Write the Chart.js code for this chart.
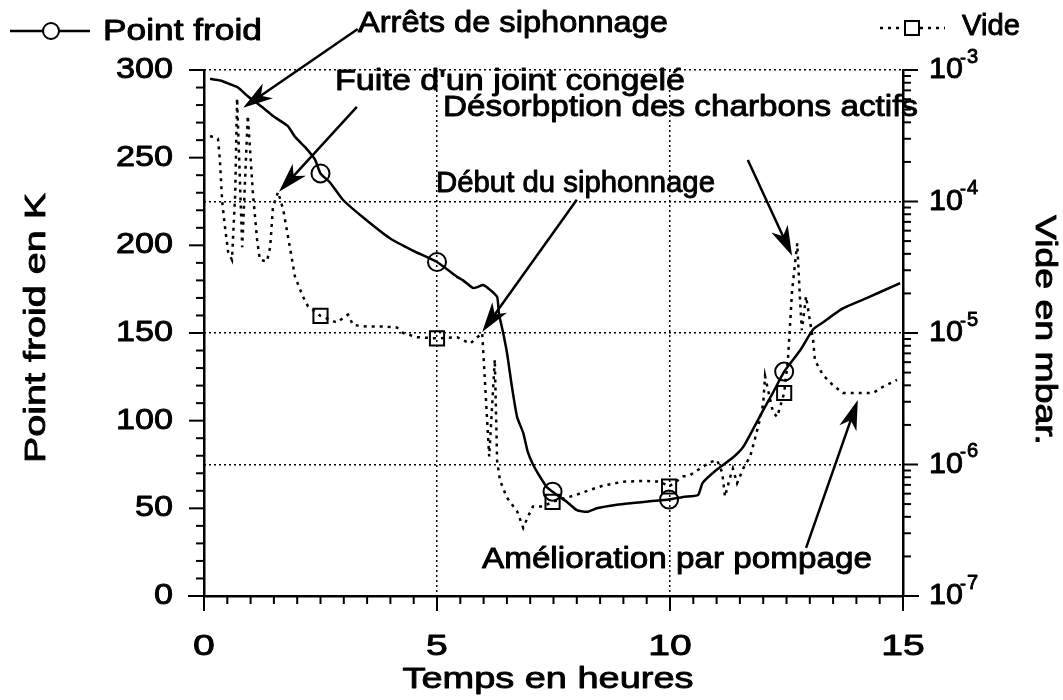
<!DOCTYPE html>
<html>
<head>
<meta charset="utf-8">
<script src="https://cdn.jsdelivr.net/npm/chart.js@4.4.1/dist/chart.umd.min.js"></script>
<style>
  body { margin: 0; background: #fff; }
  canvas { display: block; }
</style>
</head>
<body>
<canvas id="chart" width="1063" height="700"></canvas>
<script>
// Point froid (K) en fonction du temps (heures)
const froidHeures = [0.13, 0.35, 0.55, 0.73, 0.94, 1.24, 1.52, 1.8, 1.95, 2.17, 2.38, 2.5, 2.7, 2.98, 3.41, 3.99, 4.48, 5,
  5.43, 5.56, 5.77, 5.88, 5.99, 6.14, 6.29, 6.33, 6.42, 6.5, 6.61, 6.72, 6.85, 6.95, 7.06, 7.21, 7.36, 7.48,
  7.79, 8.0, 8.22, 8.43, 8.86, 9.2, 9.57, 9.98, 10.28, 10.6, 10.7, 11.0, 11.35, 11.57, 11.78, 12.0, 12.21, 12.45,
  12.79, 13.07, 13.28, 13.71, 14.23, 14.94];
const froidTemp = [295, 294, 292, 290, 285, 279, 273, 268, 262, 256, 249, 241, 236, 226, 216, 204, 197, 190.5,
  182, 180, 175.7, 176.3, 177.4, 174.6, 170.6, 161, 150, 139, 119, 102, 93, 82, 75, 68, 62, 59.5,
  53.6, 49, 48, 50, 52, 53, 54, 55, 56.5, 57.6, 64.5, 72, 79, 85, 95, 106, 116, 128,
  140, 152, 156, 164, 170, 178.5];

// Vide (mbar)
const videHeures = [0.13, 0.3, 0.34, 0.39, 0.45, 0.52, 0.6, 0.67, 0.71, 0.82, 0.94, 1.05, 1.14, 1.2, 1.35, 1.42,
  1.48, 1.59, 1.7, 1.78, 1.89, 1.95, 2.12, 2.23, 2.5, 2.85, 3.09, 3.2, 3.5, 3.84, 4.14, 4.27, 4.57, 5,
  5.43, 5.71, 5.97, 6.12, 6.24, 6.29, 6.35, 6.5, 6.72, 6.85, 6.95, 7.06, 7.27, 7.48, 8.0, 8.28, 8.56, 8.99,
  9.42, 9.79, 9.98, 10.28, 10.43, 10.64, 10.86, 11.01, 11.12, 11.18, 11.29, 11.35, 11.44, 11.57, 11.72, 11.82,
  11.93, 12.0, 12.04, 12.15, 12.21, 12.3, 12.45, 12.53, 12.62, 12.73, 12.79, 12.83, 12.92, 13.0, 13.07, 13.11,
  13.28, 13.5, 13.71, 14.08, 14.36, 14.57, 14.87];
const videPression = [3.15e-4, 3.0e-4, 2.1e-4, 1.0e-4, 6.4e-5, 4.1e-5, 3.6e-5, 1.15e-4, 6.1e-4, 4.5e-5, 4.5e-4, 1.15e-4,
  5.1e-5, 3.6e-5, 3.5e-5, 4.5e-5, 9.1e-5, 1.18e-4, 8.7e-5, 6.0e-5, 3.6e-5, 2.7e-5, 1.9e-5, 1.6e-5, 1.35e-5,
  1.2e-5, 1.38e-5, 1.15e-5, 1.12e-5, 1.12e-5, 1.1e-5, 1.0e-5, 9.3e-6, 9.1e-6, 9.3e-6, 8.3e-6, 1.0e-5, 1.15e-6,
  6.3e-6, 1.07e-6, 7.6e-7, 5.6e-7, 4.4e-7, 3.3e-7, 4.0e-7, 4.8e-7, 4.8e-7, 5.2e-7, 5.9e-7, 6.4e-7, 6.9e-7,
  7.4e-7, 7.5e-7, 7.4e-7, 6.8e-7, 8.1e-7, 8.3e-7, 9.3e-7, 1.04e-6, 1.08e-6, 8.7e-7, 5.7e-7, 8.0e-7, 9.3e-7,
  7.2e-7, 9.3e-7, 1.15e-6, 1.55e-6, 2.2e-6, 2.9e-6, 4.7e-6, 3.1e-6, 2.5e-6, 2.3e-6, 3.5e-6, 6.2e-6, 2.1e-5,
  4.8e-5, 1.8e-5, 1.05e-5, 1.9e-5, 1.25e-5, 8.9e-6, 6.2e-6, 4.8e-6, 4.0e-6, 3.5e-6, 3.5e-6, 3.5e-6, 3.9e-6,
  4.4e-6];

// heures où les symboles sont marqués sur les deux courbes
const symboleHeures = [2.5, 5, 7.48, 9.98, 12.45];

const xTicks = [0, 5, 10, 15];
const yTicks = [0, 50, 100, 150, 200, 250, 300];
const videDecades = [-7, -6, -5, -4, -3];

// annotations : flèches en (heures, K)
const notes = [
  { texte: 'Arrêts de siphonnage', x: 358, y: 24, w: 310, de: [3.3, 323.4], vers: [0.84, 278.4] },
  { texte: "Fuite d'un joint congelé", x: 335, y: 82, w: 350, de: [3.28, 279], vers: [1.61, 230.5] },
  { texte: 'Désorbption des charbons actifs', x: 443, y: 108, w: 475, de: [11.67, 248.7], vers: [12.62, 194] },
  { texte: 'Début du siphonnage', x: 436, y: 184, w: 279, de: [8.0, 226], vers: [5.97, 150.6] },
  { texte: 'Amélioration par pompage', x: 482, y: 560, w: 390, de: [12.92, 27.4], vers: [14.03, 111.8] }
];

const NOIR = '#000';
const VIDE = 'rgba(0,0,0,0)';
const POLICE = '"Liberation Sans", Arial, Helvetica, sans-serif';

// texte élargi horizontalement, légèrement épaissi par un contour
function texte(ctx, str, x, y, opt) {
  opt = opt || {};
  ctx.save();
  ctx.font = (opt.size || 29) + 'px ' + POLICE;
  ctx.fillStyle = NOIR;
  ctx.strokeStyle = NOIR;
  ctx.lineWidth = 0.9;
  ctx.lineJoin = 'round';
  ctx.setLineDash([]);
  ctx.textBaseline = 'middle';
  ctx.textAlign = 'left';
  const w = ctx.measureText(str).width;
  const sx = opt.w ? opt.w / w : (opt.sx || 1);
  ctx.translate(x, y);
  if (opt.rot) ctx.rotate(opt.rot);
  ctx.scale(sx, 1);
  let ox = 0;
  if (opt.align === 'center') ox = -w / 2;
  if (opt.align === 'right') ox = -w;
  ctx.fillText(str, ox, 0);
  ctx.strokeText(str, ox, 0);
  ctx.restore();
}

function trait(ctx, x1, y1, x2, y2) {
  ctx.beginPath();
  ctx.moveTo(x1, y1);
  ctx.lineTo(x2, y2);
  ctx.stroke();
}

function fleche(ctx, x1, y1, x2, y2) {
  const a = Math.atan2(y2 - y1, x2 - x1);
  const c = Math.cos(a), s = Math.sin(a);
  const L = 30, H = 9;
  trait(ctx, x1, y1, x2 - 20 * c, y2 - 20 * s);
  ctx.beginPath();
  ctx.moveTo(x2, y2);
  ctx.lineTo(x2 - L * c + H * s, y2 - L * s - H * c);
  ctx.lineTo(x2 - L * 0.72 * c, y2 - L * 0.72 * s);
  ctx.lineTo(x2 - L * c - H * s, y2 - L * s + H * c);
  ctx.closePath();
  ctx.fill();
}

const estDecade = v => Math.abs(Math.log10(v) - Math.round(Math.log10(v))) < 1e-6;

// graduations, libellés, légende et annotations
const habillage = {
  id: 'habillage',
  afterDraw(chart) {
    const ctx = chart.ctx;
    const { x: xs, y: ys, y2 } = chart.scales;
    const area = chart.chartArea;
    ctx.save();
    ctx.strokeStyle = NOIR;
    ctx.fillStyle = NOIR;
    ctx.lineWidth = 2;

    // axe du temps prolongé et graduations
    trait(ctx, area.left - 16, area.bottom, area.right + 16, area.bottom);
    for (let v = 0; v <= 15.001; v += 0.5) {
      const px = xs.getPixelForValue(v);
      trait(ctx, px, area.bottom, px, area.bottom + (v % 5 === 0 ? 15 : 8));
    }
    for (let v = 0; v <= 300; v += 10) {
      const py = ys.getPixelForValue(v);
      trait(ctx, area.left, py, area.left - (v % 50 === 0 ? 15 : 8), py);
    }
    videDecades.forEach(d => {
      const py = y2.getPixelForValue(Math.pow(10, d));
      trait(ctx, area.right, py, area.right + 15, py);
      if (d < -3) {
        for (let k = 2; k <= 9; k++) {
          const pk = y2.getPixelForValue(k * Math.pow(10, d));
          trait(ctx, area.right, pk, area.right + 8, pk);
        }
      }
    });

    // libellés des graduations
    xTicks.forEach(v => texte(ctx, String(v), xs.getPixelForValue(v), 647, { align: 'center', sx: 1.35 }));
    yTicks.forEach(v => texte(ctx, String(v), 173, ys.getPixelForValue(v), { align: 'right', sx: 1.18 }));
    videDecades.forEach(d => {
      const py = y2.getPixelForValue(Math.pow(10, d));
      texte(ctx, '10', 929, py, { sx: 1.05 });
      texte(ctx, '-', 960, py - 11, { size: 18 });
      texte(ctx, String(-d), 967, py - 13, { size: 20 });
    });

    // titres des axes
    texte(ctx, 'Temps en heures', 548, 680, { align: 'center', w: 291, size: 30 });
    texte(ctx, 'Point froid en K', 37, 328, { align: 'center', w: 270, rot: -Math.PI / 2, size: 30 });
    texte(ctx, 'Vide en mbar.', 1044, 330, { align: 'center', w: 230, rot: Math.PI / 2, size: 30 });

    // légende
    const ds0 = chart.data.datasets[0], ds1 = chart.data.datasets[1];
    ctx.lineWidth = ds0.borderWidth;
    trait(ctx, 10, 31, 90, 31);
    ctx.lineWidth = 2;
    ctx.fillStyle = '#fff';
    ctx.beginPath();
    ctx.arc(51, 31, 8, 0, Math.PI * 2);
    ctx.fill();
    ctx.stroke();
    texte(ctx, ds0.label, 103, 32, { w: 159 });

    ctx.lineWidth = ds1.borderWidth;
    ctx.setLineDash(ds1.borderDash);
    trait(ctx, 880, 28, 945, 28);
    ctx.setLineDash([]);
    ctx.lineWidth = 2;
    ctx.fillStyle = '#fff';
    ctx.fillRect(905, 21, 14, 14);
    ctx.strokeRect(905, 21, 14, 14);
    texte(ctx, ds1.label, 962, 27, { w: 58 });

    // annotations
    ctx.fillStyle = NOIR;
    ctx.lineWidth = 2.5;
    notes.forEach(n => {
      texte(ctx, n.texte, n.x, n.y, { w: n.w });
      fleche(ctx,
        xs.getPixelForValue(n.de[0]), ys.getPixelForValue(n.de[1]),
        xs.getPixelForValue(n.vers[0]), ys.getPixelForValue(n.vers[1]));
    });
    ctx.restore();
  }
};

const symbole = taille => c => (c.raw && symboleHeures.includes(c.raw.x)) ? taille : 0;

new Chart(document.getElementById('chart'), {
  type: 'line',
  data: {
    datasets: [
      {
        label: 'Point froid',
        yAxisID: 'y',
        data: froidHeures.map((h, i) => ({ x: h, y: froidTemp[i] })),
        borderColor: NOIR,
        borderWidth: 2.5,
        tension: 0.2,
        pointStyle: 'circle',
        pointRadius: symbole(9),
        pointBackgroundColor: VIDE,
        pointBorderColor: NOIR,
        pointBorderWidth: 2
      },
      {
        label: 'Vide',
        yAxisID: 'y2',
        data: videHeures.map((h, i) => ({ x: h, y: videPression[i] })),
        borderColor: NOIR,
        borderWidth: 2.5,
        borderDash: [3, 5],
        tension: 0,
        pointStyle: 'rect',
        pointRadius: symbole(10),
        pointBackgroundColor: VIDE,
        pointBorderColor: NOIR,
        pointBorderWidth: 2
      }
    ]
  },
  options: {
    responsive: false,
    animation: false,
    events: [],
    layout: { padding: { top: 70, left: 0, right: 0, bottom: 0 } },
    plugins: { legend: { display: false }, tooltip: { enabled: false } },
    scales: {
      x: {
        type: 'linear',
        min: 0,
        max: 15,
        ticks: { stepSize: 5, display: false },
        grid: {
          color: c => (c.tick && (c.tick.value === 0 || c.tick.value === 15)) ? VIDE : NOIR,
          lineWidth: 1.5,
          drawTicks: false
        },
        border: { display: true, color: NOIR, width: 2.5, dash: [2, 3] },
        afterFit: s => { s.height = 104; }
      },
      y: {
        position: 'left',
        min: 0,
        max: 300,
        ticks: { stepSize: 50, display: false },
        grid: { display: false, drawTicks: false },
        border: { display: true, color: NOIR, width: 2.5 },
        afterFit: s => { s.width = 204; }
      },
      y2: {
        type: 'logarithmic',
        position: 'right',
        min: 1e-7,
        max: 1e-3,
        ticks: { display: false },
        grid: {
          color: c => (c.tick && estDecade(c.tick.value) && c.tick.value > 2e-7) ? NOIR : VIDE,
          lineWidth: 1.5,
          drawTicks: false
        },
        border: { display: true, color: NOIR, width: 2.5, dash: [2, 3] },
        afterFit: s => { s.width = 160; }
      }
    }
  },
  plugins: [habillage]
});
</script>
</body>
</html>
